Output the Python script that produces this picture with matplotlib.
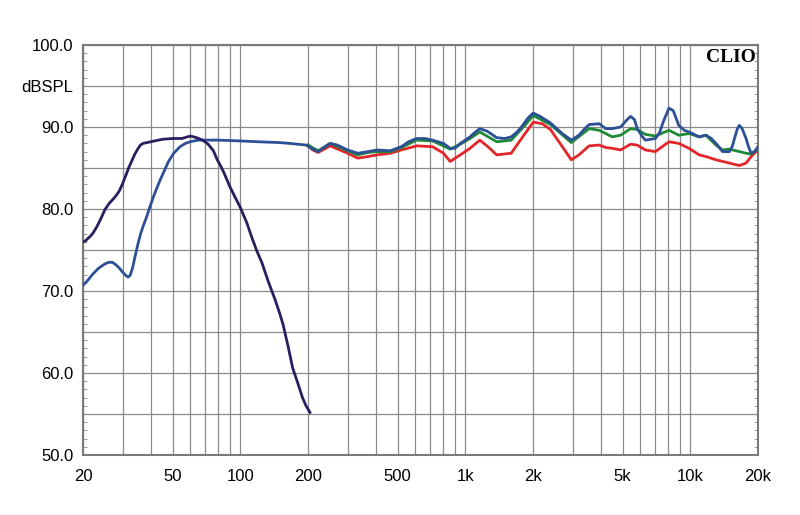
import matplotlib
matplotlib.use("Agg")
import matplotlib.pyplot as plt
from matplotlib.ticker import FixedLocator, NullFormatter

# woofer near-field (dark curve)
woofer_f = [20, 20.5, 21, 21.6, 22.2, 23, 24, 25, 26, 27, 28, 29, 30, 31, 32, 33, 34, 35, 36, 37,
            38.5, 40, 45, 50, 55, 60, 64, 68, 72, 76, 79, 82, 85, 90, 95, 100, 107, 112, 118,
            125, 133, 143, 150, 155, 163, 171, 180, 189, 196, 204]
woofer_db = [76.0, 76.1, 76.4, 76.7, 77.1, 77.8, 78.8, 79.9, 80.6, 81.1, 81.6, 82.2, 83.1, 84.1, 85.1, 85.9,
             86.7, 87.3, 87.8, 88.0,
             88.1, 88.2, 88.5, 88.6, 88.6, 88.9, 88.7, 88.4, 87.9, 87.1, 86.0, 85.2, 84.3, 82.7, 81.4, 80.2, 78.3,
             76.7, 75.0,
             73.4, 71.2, 68.9, 67.2, 65.9, 63.3, 60.6, 58.8, 57.0, 56.0, 55.2]

# total response, 0 degrees (blue)
blue_f = [20, 21, 22, 23.5, 25, 26, 27, 28, 29, 30, 31, 31.7, 32.4, 33.2, 34, 35, 36, 37, 38.3, 39.6,
          41, 42.5, 44, 45.5, 48, 50.6, 54, 57, 59.8, 65, 80, 100, 120, 150, 166, 196,
          210, 222, 235, 251, 270, 300, 333, 370, 405, 464, 520, 560, 608, 660, 716, 800, 857, 900,
          950, 1000, 1050, 1100, 1160, 1250, 1380, 1500, 1600, 1700, 1800, 1900, 2005, 2150, 2390, 2700,
          2960, 3200, 3400, 3550, 3940, 4210, 4500, 4900, 5200, 5430, 5650, 5810, 6100, 6320, 7000,
          7300, 7600, 8040, 8400, 8890, 9400, 9870, 10960, 11740, 12400, 13010, 13920, 14930, 15400,
          15800, 16200, 16530, 17000, 17700, 18200, 18650, 19300, 20000]
blue_db = [70.7, 71.3, 72.0, 72.8, 73.3, 73.5, 73.5, 73.2, 72.8, 72.3, 71.9, 71.7, 71.9, 72.8, 74.1,
           75.6, 76.9, 77.9, 79.0, 80.2,
           81.4, 82.5, 83.5, 84.4, 85.8, 86.8, 87.6, 88.0, 88.2, 88.4, 88.4, 88.3, 88.2, 88.1, 88.0, 87.8,
           87.3, 87.0, 87.5, 88.0, 87.8, 87.2, 86.8, 87.0, 87.2, 87.1, 87.6, 88.2, 88.6, 88.6, 88.4, 88.0,
           87.4, 87.4,
           88.0, 88.4, 88.8, 89.3, 89.8, 89.5, 88.7, 88.6, 88.8, 89.4, 90.2, 91.1, 91.7, 91.3, 90.5, 89.2,
           88.4, 89.0, 89.8, 90.3, 90.4, 89.8, 89.8, 90.0, 90.8, 91.3, 90.9, 89.8, 88.9, 88.4, 88.6,
           89.3, 90.7, 92.3, 92.0, 90.2, 89.6, 89.4, 88.8, 89.0, 88.6, 88.0, 87.0, 87.0, 87.7,
           88.8, 89.8, 90.2, 89.8, 88.6, 87.5, 86.8, 87.0, 87.6]

# off-axis (green)
green_f = [200, 222, 251, 300, 333, 370, 405, 464, 520, 608, 716, 857, 950, 1050, 1160, 1380,
           1600, 1800, 2005, 2390, 2960, 3550, 3940, 4210, 4500, 4900, 5430, 5810, 6320, 7000,
           8040, 8890, 9870, 10960, 11740, 13010, 13920, 14930, 16530, 17700, 18650, 20000]
green_db = [87.8, 87.1, 88.0, 87.1, 86.6, 86.9, 87.0, 87.0, 87.5, 88.4, 88.3, 87.3, 87.9, 88.6, 89.4, 88.2,
            88.4, 89.9, 91.4, 90.3, 88.1, 89.8, 89.6, 89.2, 88.8, 89.0, 89.8, 89.7, 89.1, 88.9,
            89.6, 89.0, 89.2, 88.8, 89.0, 87.8, 87.2, 87.3, 87.0, 86.8, 86.7, 87.3]

# off-axis (red)
red_f = [200, 210, 222, 251, 300, 333, 370, 405, 464, 520, 608, 716, 800, 857, 950, 1050, 1160, 1260,
         1380, 1600, 1800, 2005, 2200, 2390, 2700, 2960, 3200, 3550, 3940, 4210, 4500, 4900, 5430, 5810,
         6320, 7000, 8040, 8890, 9870, 10960, 11740, 13010, 13920, 14930, 16530, 17700, 18650, 20000]
red_db = [87.8, 87.2, 86.9, 87.7, 86.8, 86.2, 86.4, 86.6, 86.8, 87.2, 87.7, 87.6, 86.8, 85.8, 86.6, 87.4,
          88.4, 87.6, 86.6, 86.8, 88.8, 90.6, 90.4, 89.7, 87.6, 86.0, 86.6, 87.7, 87.8, 87.5, 87.4, 87.2,
          87.9, 87.8, 87.2, 87.0, 88.2, 88.0, 87.4, 86.6, 86.4, 86.0, 85.8, 85.6, 85.3, 85.6, 86.4, 87.2]

x_grid = [20, 30, 40, 50, 60, 70, 80, 90, 100, 200, 300, 400, 500, 600, 700, 800, 900,
          1000, 2000, 3000, 4000, 5000, 6000, 7000, 8000, 9000, 10000, 20000]
x_ticks = [20, 50, 100, 200, 500, 1000, 2000, 5000, 10000, 20000]
x_labels = ['20', '50', '100', '200', '500', '1k', '2k', '5k', '10k', '20k']
y_ticks = [50, 55, 60, 65, 70, 75, 80, 85, 90, 95, 100]
y_labels = ['50.0', '', '60.0', '', '70.0', '', '80.0', '', '90.0', 'dBSPL', '100.0']

plt.rcParams['font.family'] = ['Liberation Sans', 'DejaVu Sans']
fig = plt.figure(figsize=(8, 5.15), dpi=100)
ax = fig.add_axes([0.10375, 0.1165, 0.84375, 0.7961])

for xv in x_grid:
    ax.axvline(xv, color='#8a8a8a', lw=0.9, zorder=1)
for yv in y_ticks:
    ax.axhline(yv, color='#8a8a8a', lw=0.9, zorder=1)

ax.plot(red_f, red_db, color='#e3262a', lw=2, zorder=3)
ax.plot(green_f, green_db, color='#1f8a35', lw=2, zorder=4)
ax.plot(blue_f, blue_db, color='#2d4f96', lw=2, zorder=5)
ax.plot(woofer_f, woofer_db, color='#2c1d5e', lw=2, zorder=6)

ax.set_xscale('log')
ax.set_xlim(20, 20000)
ax.set_ylim(50, 100)
ax.xaxis.set_major_locator(FixedLocator(x_ticks))
ax.set_xticklabels(x_labels)
ax.xaxis.set_minor_formatter(NullFormatter())
ax.xaxis.set_minor_locator(FixedLocator([]))
ax.set_yticks(y_ticks)
ax.set_yticklabels(y_labels)
ax.yaxis.set_minor_locator(FixedLocator(range(50, 101)))
ax.tick_params(axis='x', length=0, pad=10, labelsize=12)
ax.tick_params(axis='y', which='major', length=0, pad=7, labelsize=12)
ax.tick_params(axis='y', which='minor', direction='in', length=3, color='#8a8a8a',
               left=True, right=True)
for s in ax.spines.values():
    s.set_color('#7a7a7a')
    s.set_linewidth(1.5)

ax.text(0.997, 0.99, 'CLIO', transform=ax.transAxes, ha='right', va='top',
        fontsize=14, fontweight='bold', family='Liberation Serif')

plt.savefig('out.png')
